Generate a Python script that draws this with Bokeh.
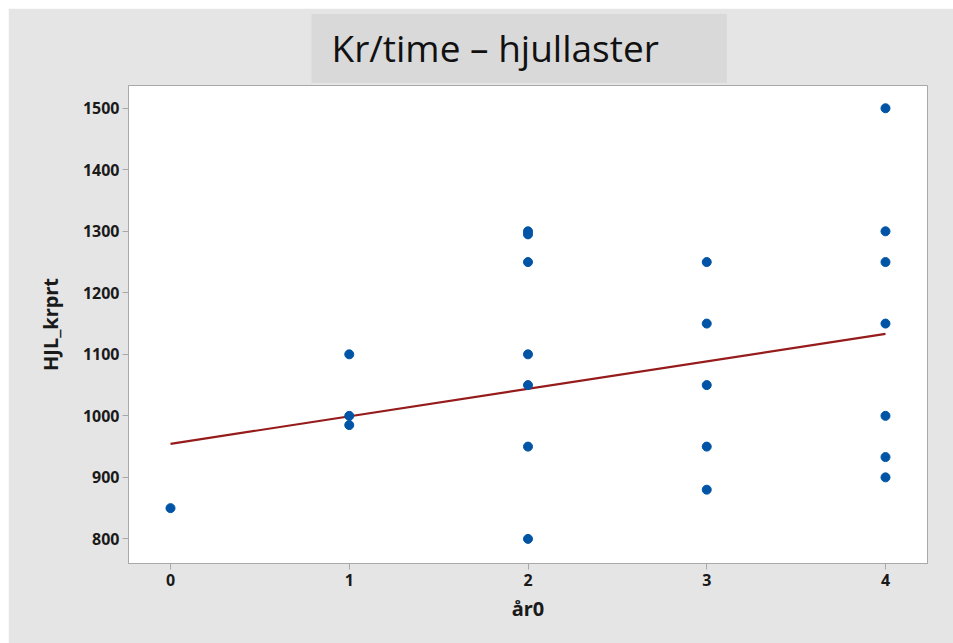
from bokeh.plotting import figure
from bokeh.models import Range1d, FixedTicker, Title
from bokeh.embed import file_html
from bokeh.resources import INLINE
import numpy as np

# data
years = [0,
         1, 1, 1,
         2, 2, 2, 2, 2, 2, 2,
         3, 3, 3, 3, 3,
         4, 4, 4, 4, 4, 4, 4]
krprt = [850,
         1100, 1000, 985,
         1300, 1295, 1250, 1100, 1050, 950, 800,
         1250, 1150, 1050, 950, 880,
         1500, 1300, 1250, 1150, 1000, 933, 900]
fit_intercept = 954.5
fit_slope = 44.7
x_ticks = [0, 1, 2, 3, 4]
y_ticks = [800, 900, 1000, 1100, 1200, 1300, 1400, 1500]
title_text = "Kr/time – hjullaster"
x_label = "år0"
y_label = "HJL_krprt"

BG = "#e5e5e5"
p = figure(width=945, height=635, output_backend="svg", toolbar_location=None,
           x_range=Range1d(-0.235, 4.235), y_range=Range1d(760, 1537),
           min_border_left=120, min_border_right=26, min_border_top=77, min_border_bottom=80,
           title=None)
p.styles = {"margin-left": "8px", "margin-top": "8px"}
p.background_fill_color = "white"
p.border_fill_color = BG
p.outline_line_color = "#a8a8a8"
p.outline_line_width = 1
p.xgrid.visible = False
p.ygrid.visible = False

fx = np.array([min(years), max(years)], dtype=float)
p.line(fx, fit_intercept + fit_slope * fx, line_color="#961b1b", line_width=2.2)
p.scatter(years, krprt, size=9, fill_color="#0054a6", line_color="#0054a6")

for ax in (p.xaxis, p.yaxis):
    ax.axis_line_color = "#a8a8a8"
    ax.major_tick_line_color = "#a8a8a8"
    ax.major_tick_out = 6
    ax.major_tick_in = 0
    ax.minor_tick_line_color = None
    ax.major_label_text_font = "Noto Sans"
    ax.major_label_text_font_style = "bold"
    ax.major_label_text_font_size = "16px"
    ax.major_label_text_color = "#1a1a1a"
    ax.axis_label_text_font = "Noto Sans"
    ax.axis_label_text_font_style = "bold"
    ax.axis_label_text_font_size = "20px"
    ax.axis_label_text_color = "#1a1a1a"

p.xaxis.ticker = FixedTicker(ticks=x_ticks)
p.yaxis.ticker = FixedTicker(ticks=y_ticks)
p.xaxis.axis_label = x_label
p.yaxis.axis_label = y_label
p.xaxis.major_label_standoff = 4
p.yaxis.major_label_standoff = 3
p.xaxis.axis_label_standoff = 6
p.yaxis.axis_label_standoff = 16

# padding order: (left, right, top, bottom)
title = Title(text=title_text, align="left", offset=183, standoff=5,
              text_font="Open Sans", text_font_size="37px", text_font_style="normal",
              text_color="#111111",
              background_fill_color="#d9d9d9", padding=(20, 68, 8, 10))
p.add_layout(title, "above")

open("out.html", "w").write(file_html(p, INLINE))
